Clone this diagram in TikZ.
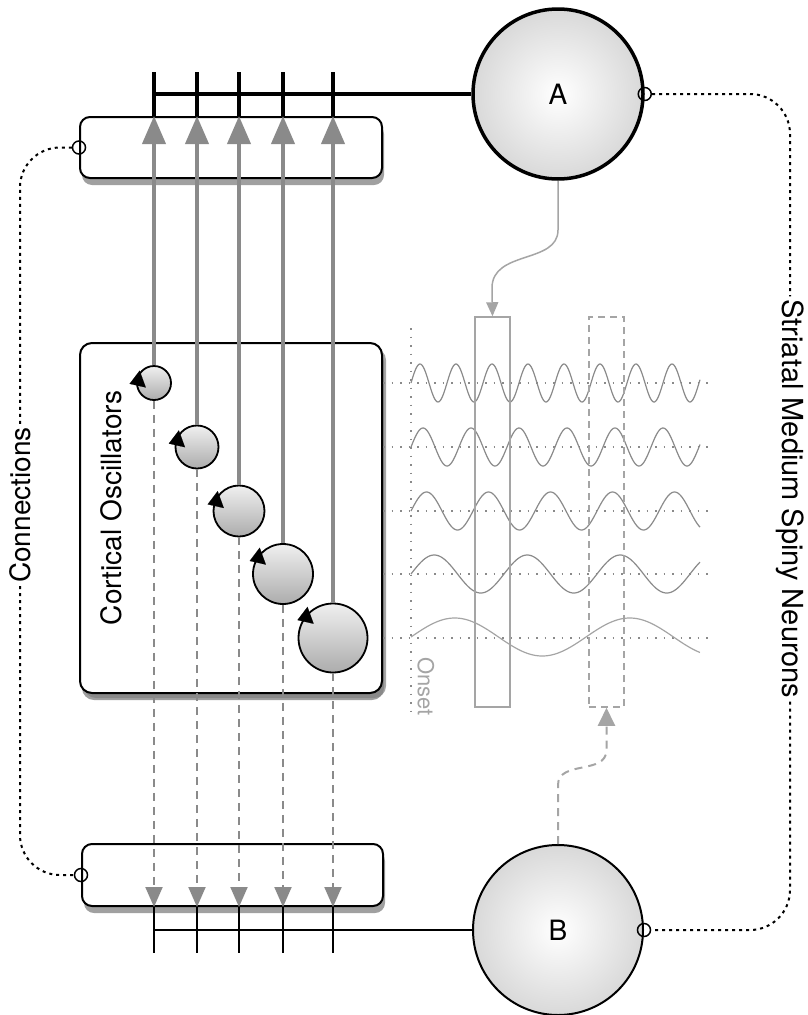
\documentclass[tikz,border=0pt]{standalone}
\usepackage{fontspec}
\setmainfont{TeX Gyre Heros}
\usetikzlibrary{arrows.meta,shadows}

\definecolor{arrgray}{HTML}{8A8A8A}
\definecolor{litegray}{HTML}{A5A5A5}

\begin{document}
\begin{tikzpicture}[x=1pt,y=1pt,font=\fontsize{28}{32}\selectfont] % 1pt = 1px
\tikzstyle{mybox} = [draw, line width=2pt, rounded corners=10pt, fill=white, inner sep=0pt, drop shadow={shadow xshift=2pt, shadow yshift=-7pt, opacity=.75}] % блок связей
\tikzstyle{myosc} = [circle, draw, line width=1.8pt, top color=gray!12, bottom color=gray!65, inner sep=0pt] % осциллятор
\tikzstyle{myneuron} = [circle, draw, inner color=white, outer color=gray!30, minimum size=170pt, inner sep=0pt] % нейрон A, B
\tikzstyle{mysmall} = [circle, draw, line width=1.5pt, minimum size=13pt, inner sep=0pt] % маленький кружок
\tikzstyle{myup} = [arrgray, line width=4pt, -{Triangle[length=28pt,width=23pt]}] % сплошная стрелка вверх
\tikzstyle{mydown} = [arrgray, line width=2pt, dash pattern=on 8pt off 6pt, -{Triangle[length=20pt,width=17pt]}] % пунктир вниз
\tikzstyle{myhead} = [-{Triangle[length=14pt,width=18pt]}, line width=0.1pt] % направление вращения
\tikzstyle{mylink} = [line width=2pt, dash pattern=on 3pt off 4pt, rounded corners=40pt] % точечные связи
\tikzstyle{mygrid} = [arrgray, line width=1.5pt, dash pattern=on 1.5pt off 7pt] % оси волн
\tikzstyle{mywave} = [arrgray, line width=1.2pt, samples=300, domain=411:700] % синусоиды
\useasboundingbox (0,0) rectangle (807,-1015);

% блоки
\node[mybox, rounded corners=12pt, minimum width=302pt, minimum height=350pt, drop shadow={shadow xshift=4pt, shadow yshift=-5pt, opacity=.7}] (ob) at (231,-518) {};
\node[rotate=90] (ot) at (111,-508) {Cortical Oscillators};
\node[mybox, minimum width=302pt, minimum height=61pt] (ct) at (231,-147.5) {};
\node[mybox, minimum width=301pt, minimum height=62pt] (cb) at (232.5,-875) {};
\node[mysmall] (ct1) at (ct.west) {};
\node[mysmall] (cb1) at (cb.west) {};

% нейроны
\node[myneuron, line width=3.5pt] (A) at (558,-94) {A};
\node[myneuron, line width=2pt] (B) at (558,-930) {B};
\node[mysmall] (A1) at (A.east) {};
\node[mysmall] (B1) at (B.east) {};

% подписи
\node[rotate=90, inner sep=3pt] (con) at (20,-505) {Connections};
\node[rotate=-90, inner sep=3pt, font=\fontsize{29}{32}\selectfont] (str) at (790,-499) {Striatal Medium Spiny Neurons};
\node[rotate=-90, anchor=west, inner sep=0pt, text=litegray, font=\fontsize{22}{26}\selectfont] (on) at (426,-657) {Onset};

\draw[mylink] (ct1.west) -| (con.east);
\draw[mylink] (con.west) |- (cb1.west);
\draw[mylink] (A1.east) -| (str.west);
\draw[mylink] (str.east) |- (B1.east);

% осцилляторы
\node[myosc, minimum size=34pt] (o1) at (154,-383) {};
\node[myosc, minimum size=43pt] (o2) at (197,-447) {};
\node[myosc, minimum size=51pt] (o3) at (239,-511) {};
\node[myosc, minimum size=60pt] (o4) at (283,-574) {};
\node[myosc, minimum size=69pt] (o5) at (333,-638) {};

\foreach \i/\a in {1/175,2/165,3/160,4/150,5/145} {
  \draw[myup] (o\i.north) -- (o\i.north |- ct.north);
  \draw[mydown] (o\i.south) -- (o\i.south |- cb.south);
  \draw[myhead] ([shift={(20:7pt)}]o\i.\a) -- ++(200:14pt);
  \draw[line width=4pt] (o\i |- ct.north) -- ++(0,44);
  \draw[line width=2pt] (o\i |- cb.south) -- ++(0,-46);
  \draw[mygrid] (ob.east |- o\i) -- ++(326,0);
}
\draw[line width=4pt] (A.west) -- (A.west -| o1);
\draw[line width=2pt] (B.west) -- (B.west -| o1);

% волны: период 36, 48, 62, 93, 175
\draw[mygrid] (411,-328) -- (411,-712);
\draw[mywave] plot (\x, {-383+19*sin((\x-411)*10)});
\draw[mywave] plot (\x, {-447+19*sin((\x-411)*7.5)});
\draw[mywave] plot (\x, {-511+19*sin((\x-411)*5.806)});
\draw[mywave] plot (\x, {-574+19*sin((\x-411)*3.871)});
\draw[mywave, litegray] plot (\x, {-637+19*sin((\x-411)*2.057)});

% окна
\node[draw=litegray, line width=1.5pt, minimum width=35pt, minimum height=390pt, inner sep=0pt] (w1) at (492.5,-512) {};
\node[draw=litegray, line width=1.5pt, dash pattern=on 7pt off 5pt, minimum width=35pt, minimum height=390pt, inner sep=0pt] (w2) at (606.5,-512) {};

\draw[litegray, line width=1.5pt, -{Triangle[length=14pt,width=12pt]}] (A.south) -- (558,-230) .. controls (558,-264) and (492,-250) .. (492,-288) -- (w1.north);
\draw[litegray, line width=2pt, dash pattern=on 8pt off 6pt, -{Triangle[length=18pt,width=17pt]}] (B.north) -- (558,-785) .. controls (558,-760) and (606.5,-775) .. (606.5,-750) -- (w2.south);
\end{tikzpicture}
\end{document}
